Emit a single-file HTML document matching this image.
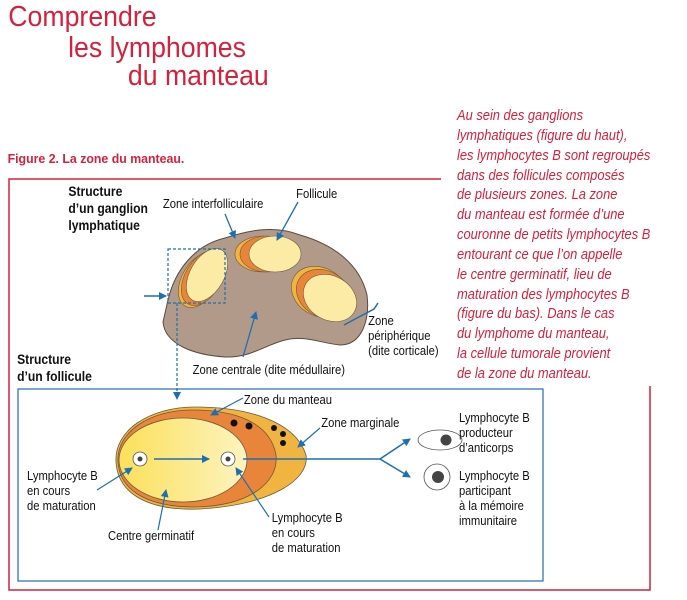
<!DOCTYPE html>
<html><head><meta charset="utf-8"><style>
html,body{margin:0;padding:0;background:#fff;}
svg{display:block;}
text{font-family:"Liberation Sans",sans-serif;}
</style></head><body>
<svg width="687" height="600" viewBox="0 0 687 600" xmlns="http://www.w3.org/2000/svg">
<defs>
<marker id="ah" markerWidth="8" markerHeight="8" refX="7" refY="4" orient="auto" markerUnits="userSpaceOnUse"><path d="M0,0 L8,4 L0,8 Z" fill="#1f6fb0"/></marker>
<linearGradient id="gc" x1="0" x2="1" y1="0" y2="0"><stop offset="0" stop-color="#fbe05a"/><stop offset="1" stop-color="#fdf3c0"/></linearGradient>
</defs>
<g fill="#d4213d" font-size="29" transform="scale(0.92,1)">
<text x="9" y="26">Comprendre</text>
<text x="74" y="57">les lymphomes</text>
<text x="139" y="85">du manteau</text>
</g>
<text x="8" y="163" font-size="13" font-weight="bold" fill="#d4213d" transform="scale(0.95,1)">Figure 2. La zone du manteau.</text>
<g fill="#d4213d" font-size="15" font-style="italic" transform="translate(457,0) scale(0.86,1)">
<text x="0" y="120">Au sein des ganglions</text>
<text x="0" y="140">lymphatiques (figure du haut),</text>
<text x="0" y="160">les lymphocytes B sont regroupés</text>
<text x="0" y="180">dans des follicules composés</text>
<text x="0" y="199">de plusieurs zones. La zone</text>
<text x="0" y="219">du manteau est formée d’une</text>
<text x="0" y="239">couronne de petits lymphocytes B</text>
<text x="0" y="259">entourant ce que l’on appelle</text>
<text x="0" y="279">le centre germinatif, lieu de</text>
<text x="0" y="299">maturation des lymphocytes B</text>
<text x="0" y="318">(figure du bas). Dans le cas</text>
<text x="0" y="338">du lymphome du manteau,</text>
<text x="0" y="358">la cellule tumorale provient</text>
<text x="0" y="378">de la zone du manteau.</text>
</g>
<path d="M441,179 L9,179 L9,590 L650,590 L650,386" fill="none" stroke="#d4213d" stroke-width="1.5"/>
<path d="M168,300 C175,270 195,245 225,238 C250,230 275,225 300,235 C335,245 360,265 367,295 C370,320 362,345 340,345 C320,343 305,335 285,340 C265,345 250,358 225,357 C195,355 165,345 163,322 Z" fill="#b29a8a" stroke="#5a4a40" stroke-width="1"/>
<g stroke="#6a5a40" stroke-width="0.6">
<ellipse cx="263" cy="254" rx="28" ry="18" fill="#f2b440"/>
<ellipse cx="267" cy="254" rx="27" ry="18" fill="#e8853a"/>
<ellipse cx="275" cy="254" rx="26" ry="18" fill="#fceba5"/>
<ellipse cx="320" cy="292" rx="30" ry="24" transform="rotate(30 320 292)" fill="#f2b440"/>
<ellipse cx="324" cy="294" rx="29" ry="23" transform="rotate(30 324 294)" fill="#e8853a"/>
<ellipse cx="330" cy="298" rx="28" ry="22" transform="rotate(30 330 298)" fill="#fceba5"/>
<ellipse cx="200" cy="280" rx="18" ry="30" transform="rotate(30 200 280)" fill="#f2b440"/>
<ellipse cx="203" cy="278" rx="18" ry="30" transform="rotate(30 203 278)" fill="#e8853a"/>
<ellipse cx="207" cy="275" rx="17" ry="29" transform="rotate(30 207 275)" fill="#fceba5"/>
</g>
<rect x="168" y="249" width="57" height="54" fill="none" stroke="#1f6fb0" stroke-width="1.2" stroke-dasharray="3,2"/>
<line x1="144" y1="296" x2="166" y2="296" stroke="#1f6fb0" stroke-width="1.5" marker-end="url(#ah)"/>
<line x1="177" y1="303" x2="177" y2="396" stroke="#1f6fb0" stroke-width="1.2" stroke-dasharray="3,2"/>
<path d="M173,392 L177,400 L181,392 Z" fill="#1f6fb0"/>
<g stroke="#1f6fb0" stroke-width="1.3" fill="none" marker-end="url(#ah)">
<line x1="225" y1="214" x2="235" y2="238"/>
<line x1="298" y1="202" x2="277" y2="240"/>
<line x1="243" y1="357" x2="256" y2="312"/>
</g>
<path d="M344,325 L357,318 L374,309 L378,303" fill="none" stroke="#1f6fb0" stroke-width="1.5"/>
<g font-size="12.5" fill="#111" transform="scale(0.9,1)">
<text x="181" y="208">Zone interfolliculaire</text>
<text x="329" y="198">Follicule</text>
<text x="409" y="325">Zone</text>
<text x="409" y="340">périphérique</text>
<text x="409" y="355">(dite corticale)</text>
<text x="214" y="374">Zone centrale (dite médullaire)</text>
</g>
<g font-size="13.5" font-weight="bold" fill="#111" transform="scale(0.9,1)">
<text x="76" y="196">Structure</text>
<text x="76" y="213">d’un ganglion</text>
<text x="76" y="230">lymphatique</text>
<text x="19" y="364">Structure</text>
<text x="19" y="381">d’un follicule</text>
</g>
<rect x="18" y="389" width="525" height="192" fill="none" stroke="#1f6fb0" stroke-width="1.2"/>
<path d="M116,462 C114,430 150,407 195,407 C245,407 295,420 306,455 C310,480 270,505 200,509 C150,511 118,495 116,462 Z" fill="#f2b440" stroke="#6a5a40" stroke-width="0.8"/>
<path d="M118,462 C116,432 150,410 192,410 C235,410 270,422 276,455 C279,482 250,506 195,507 C150,507 120,492 118,462 Z" fill="#e8853a" stroke="#6a5a40" stroke-width="0.8"/>
<ellipse cx="183" cy="460" rx="64" ry="42" fill="url(#gc)" stroke="#6a5a40" stroke-width="0.8"/>
<g fill="#111">
<circle cx="234" cy="423" r="3.5"/><circle cx="249" cy="426" r="3.5"/>
<circle cx="274" cy="428" r="3"/><circle cx="283" cy="434" r="3"/><circle cx="283" cy="443" r="3"/>
</g>
<g stroke="#555" stroke-width="0.8" fill="#fff">
<circle cx="140" cy="459" r="7"/><circle cx="228" cy="459" r="7"/>
<ellipse cx="440" cy="440" rx="22" ry="10"/>
<circle cx="437" cy="477" r="13"/>
</g>
<g fill="#444"><circle cx="140" cy="459" r="2.5"/><circle cx="228" cy="459" r="2.5"/><circle cx="446" cy="440" r="5.5"/><circle cx="438" cy="477" r="6"/></g>
<g stroke="#1f6fb0" stroke-width="1.5" fill="none">
<line x1="154" y1="459" x2="209" y2="459" marker-end="url(#ah)"/>
<path d="M243,459 L380,459"/>
<line x1="380" y1="459" x2="410" y2="439" marker-end="url(#ah)"/>
<line x1="380" y1="459" x2="410" y2="477" marker-end="url(#ah)"/>
</g>
<g stroke="#1f6fb0" stroke-width="1.2" fill="none" marker-end="url(#ah)">
<line x1="243" y1="398" x2="211" y2="415"/>
<line x1="320" y1="428" x2="298" y2="447"/>
<line x1="97" y1="490" x2="132" y2="468"/>
<line x1="158" y1="530" x2="166" y2="490"/>
<line x1="269" y1="517" x2="236" y2="468"/>
</g>
<g font-size="12.5" fill="#111" transform="scale(0.9,1)">
<text x="271" y="404">Zone du manteau</text>
<text x="357" y="427">Zone marginale</text>
<text x="510" y="422">Lymphocyte B</text>
<text x="510" y="437">producteur</text>
<text x="510" y="452">d’anticorps</text>
<text x="510" y="480">Lymphocyte B</text>
<text x="510" y="495">participant</text>
<text x="510" y="510">à la mémoire</text>
<text x="510" y="525">immunitaire</text>
<text x="30" y="480">Lymphocyte B</text>
<text x="30" y="495">en cours</text>
<text x="30" y="510">de maturation</text>
<text x="120" y="540">Centre germinatif</text>
<text x="302" y="522">Lymphocyte B</text>
<text x="302" y="537">en cours</text>
<text x="302" y="552">de maturation</text>
</g>
</svg>
</body></html>
